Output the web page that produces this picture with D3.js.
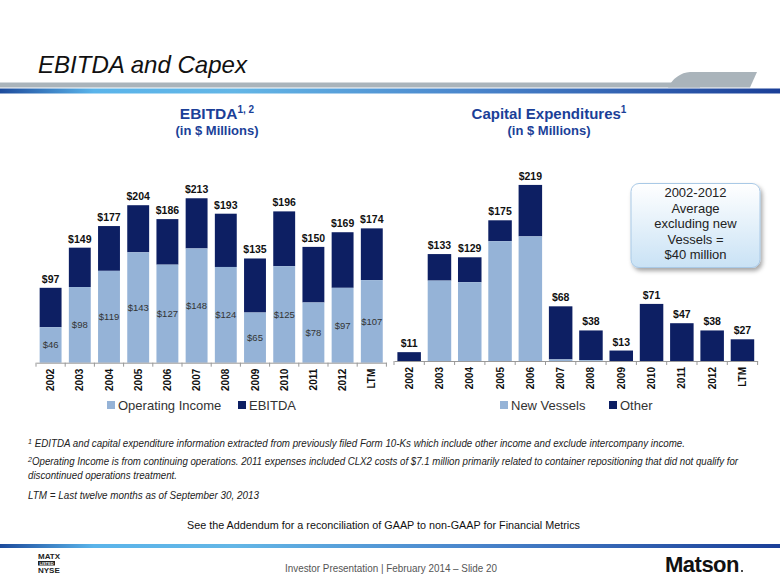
<!DOCTYPE html>
<html><head><meta charset="utf-8">
<script src="https://cdn.jsdelivr.net/npm/d3@7"></script>
<style>
html,body{margin:0;padding:0;background:#fff;}
svg{display:block;font-family:"Liberation Sans",Arial,sans-serif;}
</style></head>
<body><svg id="c" width="780" height="585"></svg>
<script>
// ---- data ----
const years = ["2002","2003","2004","2005","2006","2007","2008","2009","2010","2011","2012","LTM"];
const ebitdaTotal = [97,149,177,204,186,213,193,135,196,150,169,174];
const operatingIncome = [46,98,119,143,127,148,124,65,125,78,97,107];
const capexTotal = [11,133,129,175,219,68,38,13,71,47,38,27];
const newVessels = [0,100,98,149,155,2,1,0,0,0,0,0];
const leftLegend = ["Operating Income","EBITDA"];
const rightLegend = ["New Vessels","Other"];
const calloutLines = ["2002-2012","Average","excluding new","Vessels =","$40 million"];

const LIGHT = "#95b3d7", DARK = "#0d1f63", BLUE = "#1b3f98";
const svg = d3.select("#c");
const defs = svg.append("defs");

// gradients
const g1 = defs.append("linearGradient").attr("id","blueLine");
[["0%","#1d4b9c"],["12%","#5ab4ea"],["30%","#63b6e6"],["60%","#4a86cc"],["100%","#1b3f98"]]
  .forEach(s=>g1.append("stop").attr("offset",s[0]).attr("stop-color",s[1]));
const g2 = defs.append("linearGradient").attr("id","callGrad").attr("x1",0).attr("x2",0).attr("y1",0).attr("y2",1);
[["0%","#ffffff"],["100%","#c9e2f5"]].forEach(s=>g2.append("stop").attr("offset",s[0]).attr("stop-color",s[1]));
const f = defs.append("filter").attr("id","shadow").attr("x","-20%").attr("y","-20%").attr("width","140%").attr("height","140%");
f.append("feDropShadow").attr("dx",2).attr("dy",3).attr("stdDeviation",2).attr("flood-color","#000").attr("flood-opacity",0.35);

// ---- header ----
svg.append("text").attr("x",38).attr("y",73).attr("font-size",24).attr("font-style","italic")
  .attr("fill","#111").attr("textLength",209).attr("lengthAdjust","spacingAndGlyphs").text("EBITDA and Capex");
svg.append("rect").attr("x",0).attr("y",82.5).attr("width",700).attr("height",5).attr("fill","#aab4bb");
svg.append("path").attr("d","M668,87.5 Q676,73 690,72 L757,72 L750,87.5 Z").attr("fill","#aab4bb");
svg.append("rect").attr("x",0).attr("y",88.5).attr("width",780).attr("height",5).attr("fill","url(#blueLine)");

// ---- chart titles ----
const t1 = svg.append("text").attr("x",217).attr("y",119).attr("text-anchor","middle")
  .attr("font-weight","bold").attr("font-size",15.5).attr("fill",BLUE);
t1.append("tspan").text("EBITDA");
t1.append("tspan").attr("font-size",10).attr("dy",-6).text("1, 2");
svg.append("text").attr("x",217).attr("y",135).attr("text-anchor","middle").attr("font-weight","bold")
  .attr("font-size",13).attr("fill",BLUE).text("(in $ Millions)");
const t2 = svg.append("text").attr("x",549).attr("y",119).attr("text-anchor","middle")
  .attr("font-weight","bold").attr("font-size",15).attr("fill",BLUE);
t2.append("tspan").text("Capital Expenditures");
t2.append("tspan").attr("font-size",10).attr("dy",-6).text("1");
svg.append("text").attr("x",549).attr("y",135).attr("text-anchor","middle").attr("font-weight","bold")
  .attr("font-size",13).attr("fill",BLUE).text("(in $ Millions)");

// ---- chart builder ----
function drawChart(cfg){
  const x = d3.scaleBand().domain(years).range(cfg.xr).paddingInner(cfg.pi).paddingOuter(cfg.pi/2);
  const y = d3.scaleLinear().domain([0,100]).range([cfg.base, cfg.base - cfg.k*100]);
  const g = svg.append("g");
  const rows = years.map((yr,i)=>({yr, total:cfg.total[i], low:cfg.low[i]}));
  g.selectAll(".top").data(rows).join("rect")
    .attr("x",d=>x(d.yr)).attr("width",x.bandwidth())
    .attr("y",d=>y(d.total)).attr("height",d=>y(d.low)-y(d.total)).attr("fill",DARK);
  g.selectAll(".low").data(rows.filter(d=>d.low>0)).join("rect")
    .attr("x",d=>x(d.yr)).attr("width",x.bandwidth())
    .attr("y",d=>y(d.low)).attr("height",d=>y(0)-y(d.low)).attr("fill",LIGHT);
  g.selectAll(".tl").data(rows).join("text")
    .attr("x",d=>x(d.yr)+x.bandwidth()/2).attr("y",d=>y(d.total)-5)
    .attr("text-anchor","middle").attr("font-weight","bold").attr("font-size",10.5).attr("fill","#111")
    .text(d=>"$"+d.total);
  if(cfg.inner){
    g.selectAll(".il").data(rows).join("text")
      .attr("x",d=>x(d.yr)+x.bandwidth()/2).attr("y",d=>(y(0)+y(d.low))/2+3.5)
      .attr("text-anchor","middle").attr("font-size",9.5).attr("fill","#333")
      .text(d=>"$"+d.low);
  }
  const ax = g.append("g").attr("transform",`translate(0,${cfg.base})`)
    .call(d3.axisBottom(x).tickSize(0).tickSizeOuter(0));
  ax.select(".domain").attr("stroke","#999");
  ax.selectAll(".tick text").attr("font-family","Liberation Sans, Arial, sans-serif")
    .attr("font-size",10).attr("font-weight","bold").attr("fill","#111")
    .attr("text-anchor","end").attr("transform","rotate(-90)").attr("x",-6).attr("y",0).attr("dy","0.35em");
  const step = x.step();
  const seps = years.map(yr=>x(yr) - step*cfg.pi/2).concat([x(years[years.length-1])+x.bandwidth()+step*cfg.pi/2]);
  g.selectAll(".sep").data(seps).join("line")
    .attr("x1",d=>d).attr("x2",d=>d).attr("y1",cfg.base).attr("y2",cfg.base+4).attr("stroke","#999");
  cfg.legend.forEach((lbl,i)=>{
    const lx = cfg.legX[i];
    g.append("rect").attr("x",lx).attr("y",401).attr("width",8).attr("height",8).attr("fill",i===0?LIGHT:DARK);
    g.append("text").attr("x",lx+11).attr("y",409.5).attr("font-size",13).attr("fill","#333").text(lbl);
  });
}

drawChart({xr:[36,386.4], pi:0.25, base:362.7, k:0.772, total:ebitdaTotal, low:operatingIncome,
  inner:true, legend:leftLegend, legX:[107,238]});
drawChart({xr:[394,757.6], pi:0.224, base:361, k:0.804, total:capexTotal, low:newVessels,
  inner:false, legend:rightLegend, legX:[500,609]});

// callout
svg.append("rect").attr("x",631).attr("y",183.5).attr("width",129).attr("height",84).attr("rx",8)
  .attr("fill","url(#callGrad)").attr("stroke","#a9c9e6").attr("stroke-width",1).attr("filter","url(#shadow)");
svg.append("g").selectAll("text").data(calloutLines).join("text")
  .attr("x",695.5).attr("y",(d,i)=>197+i*15.5).attr("text-anchor","middle")
  .attr("font-size",13).attr("fill","#222").text(d=>d);

// ---- footnotes ----
const fn = svg.append("g").attr("font-size",10).attr("font-style","italic").attr("fill","#222");
const f1 = fn.append("text").attr("x",28).attr("y",447);
f1.append("tspan").attr("font-size",7).attr("dy",-3).text("1");
f1.append("tspan").attr("dy",3).attr("x",32).attr("textLength",653).attr("lengthAdjust","spacingAndGlyphs")
  .text(" EDITDA and capital expenditure information extracted from previously filed Form 10-Ks which include other income and exclude intercompany income.");
const f2 = fn.append("text").attr("x",28).attr("y",465);
f2.append("tspan").attr("font-size",7).attr("dy",-3).text("2");
f2.append("tspan").attr("dy",3).attr("x",32).attr("textLength",706).attr("lengthAdjust","spacingAndGlyphs")
  .text("Operating Income is from continuing operations. 2011 expenses included CLX2 costs of $7.1 million primarily related to container repositioning that did not qualify for");
fn.append("text").attr("x",28).attr("y",479).attr("textLength",149).attr("lengthAdjust","spacingAndGlyphs").text("discontinued operations treatment.");
fn.append("text").attr("x",28).attr("y",499).attr("textLength",231).attr("lengthAdjust","spacingAndGlyphs").text("LTM = Last twelve months as of September 30, 2013");
svg.append("text").attr("x",187).attr("y",529).attr("font-size",11)
  .attr("textLength",393).attr("lengthAdjust","spacingAndGlyphs").attr("fill","#111")
  .text("See the Addendum for a reconciliation of GAAP to non-GAAP for Financial Metrics");

// ---- footer ----
svg.append("rect").attr("x",0).attr("y",544).attr("width",780).attr("height",4).attr("fill","url(#blueLine)");
svg.append("text").attr("x",285).attr("y",572).attr("font-size",11)
  .attr("textLength",212).attr("lengthAdjust","spacingAndGlyphs").attr("fill","#555")
  .text("Investor Presentation | February 2014 \u2013 Slide 20");
const lg = svg.append("g").attr("font-weight","bold").attr("fill","#222");
lg.append("text").attr("x",38).attr("y",559).attr("font-size",8).text("MATX");
lg.append("rect").attr("x",38).attr("y",561).attr("width",17).attr("height",4.5).attr("fill","#222");
lg.append("text").attr("x",46.5).attr("y",564.8).attr("text-anchor","middle").attr("font-size",4).attr("fill","#fff").text("LISTED");
lg.append("text").attr("x",38).attr("y",573).attr("font-size",8).text("NYSE");
svg.append("text").attr("x",665).attr("y",572).attr("font-size",22).attr("font-weight","bold")
  .attr("fill","#111").attr("letter-spacing",-0.5).text("Matson");
svg.append("circle").attr("cx",742).attr("cy",571).attr("r",1).attr("fill","#111");
</script></body></html>
